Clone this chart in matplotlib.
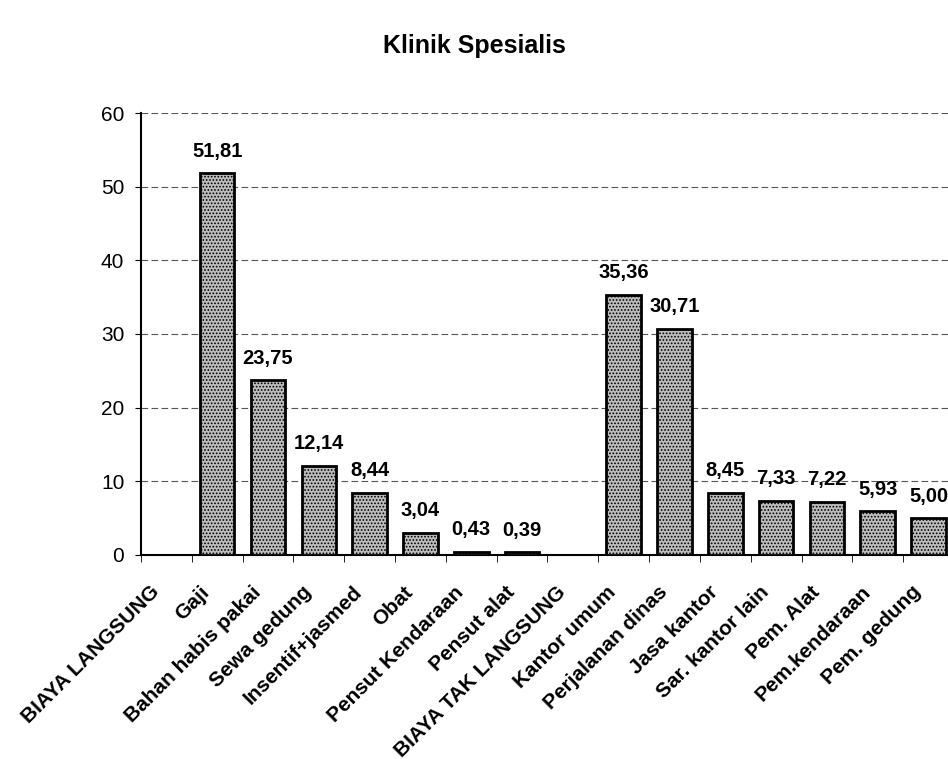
import numpy as np
import matplotlib.pyplot as plt
from matplotlib.transforms import ScaledTranslation

plt.rcParams['font.family'] = ['Liberation Sans', 'DejaVu Sans']
plt.rcParams['hatch.linewidth'] = 0.8
plt.rcParams['hatch.color'] = '#3a3a3a'

# biaya per kategori, Klinik Spesialis (kosong = judul kelompok)
categories = ['BIAYA LANGSUNG', 'Gaji', 'Bahan habis pakai', 'Sewa gedung',
              'Insentif+jasmed', 'Obat', 'Pensut Kendaraan', 'Pensut alat',
              'BIAYA TAK LANGSUNG', 'Kantor umum', 'Perjalanan dinas',
              'Jasa kantor', 'Sar. kantor lain', 'Pem. Alat', 'Pem.kendaraan',
              'Pem. gedung']
values = [np.nan, 51.81, 23.75, 12.14, 8.44, 3.04, 0.43, 0.39,
          np.nan, 35.36, 30.71, 8.45, 7.33, 7.22, 5.93, 5.00]

fig = plt.figure(figsize=(9.48, 7.59), dpi=100)
ax = fig.add_axes([0.1487, 0.2688, 0.8576, 0.5823])

x = np.arange(len(categories))
vals = np.array(values, dtype=float)
heights = np.nan_to_num(vals)
ax.bar(x, heights, width=0.68, color='#bdbdbd', edgecolor='black',
       linewidth=2, hatch='.....', zorder=3)

for xi, v in zip(x, vals):
    if np.isnan(v):
        continue
    ax.annotate(f'{v:.2f}'.replace('.', ','), (xi, v), xytext=(0, 9),
                textcoords='offset points', ha='center', va='bottom',
                fontsize=14.5, fontweight='bold')

ax.set_xlim(-0.5, len(categories) - 0.5)
ax.set_ylim(0, 60)
ax.set_yticks(range(0, 61, 10))
ax.tick_params(axis='y', labelsize=15, length=4, pad=8, direction='out')
ax.yaxis.grid(True, linestyle=(0, (6, 3)), color='#555555', linewidth=0.8)
ax.set_axisbelow(True)

ax.set_xticks(x)
ax.set_xticklabels(categories, rotation=45, ha='right', rotation_mode='anchor',
                   fontsize=15, fontweight='bold')
ax.tick_params(axis='x', length=0, pad=14)
shift = ScaledTranslation(-0.17, -0.08, fig.dpi_scale_trans)
for lab in ax.get_xticklabels():
    lab.set_transform(lab.get_transform() + shift)
ax.set_xticks(np.arange(-0.5, len(categories)), minor=True)
ax.tick_params(axis='x', which='minor', length=5, direction='out')

for s in ['top', 'right']:
    ax.spines[s].set_visible(False)
ax.spines['left'].set_linewidth(1.5)
ax.spines['bottom'].set_linewidth(1.5)

fig.text(0.5, 0.94, 'Klinik Spesialis', ha='center', va='center',
         fontsize=18, fontweight='bold')

fig.savefig('out.png', dpi=100)
